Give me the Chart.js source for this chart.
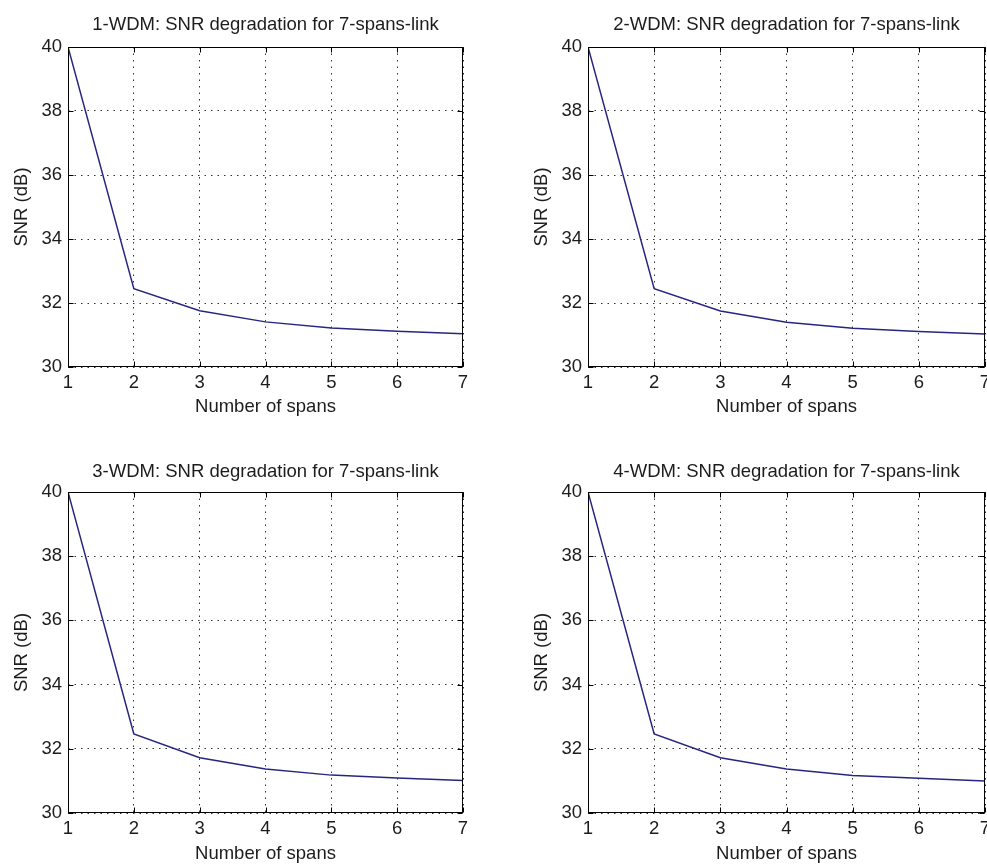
<!DOCTYPE html>
<html>
<head>
<meta charset="utf-8">
<script src="https://cdn.jsdelivr.net/npm/chart.js@4/dist/chart.umd.min.js"></script>
<style>
  html, body { margin: 0; padding: 0; background: #ffffff; }
  body { width: 987px; height: 867px; position: relative; overflow: hidden; }
  canvas { position: absolute; }
</style>
</head>
<body>
<canvas id="c1" style="left:0px;top:0px;"></canvas>
<canvas id="c2" style="left:520px;top:0px;"></canvas>
<canvas id="c3" style="left:0px;top:445px;"></canvas>
<canvas id="c4" style="left:520px;top:445px;"></canvas>
<script>
// ---- data ----
const spans = [1, 2, 3, 4, 5, 6, 7];
const snr1WDM = [40, 32.45, 31.76, 31.41, 31.22, 31.12, 31.04];
const snr2WDM = [40, 32.45, 31.75, 31.40, 31.21, 31.11, 31.03];
const snr3WDM = [40, 32.46, 31.72, 31.37, 31.18, 31.09, 31.01];
const snr4WDM = [40, 32.46, 31.72, 31.37, 31.17, 31.08, 31.00];
const titles = [
  '1-WDM: SNR degradation for 7-spans-link',
  '2-WDM: SNR degradation for 7-spans-link',
  '3-WDM: SNR degradation for 7-spans-link',
  '4-WDM: SNR degradation for 7-spans-link'
];
const xLabel = 'Number of spans';
const yLabel = 'SNR (dB)';
const xRange = [1, 7];
const yRange = [30, 40];
const xStep = 1;
const yStep = 2;

// ---- style ----
const FONT = '"Liberation Sans", Arial, Helvetica, sans-serif';
const FS = 18.5;
const TXT = '#1c1c1c';
const LINE = '#262680';

const framePlugin = {
  id: 'matlabFrame',
  afterDraw(chart) {
    const {ctx, chartArea: a, scales} = chart;
    ctx.save();
    ctx.setLineDash([]);
    ctx.strokeStyle = '#000';
    ctx.lineWidth = 1;
    const L = Math.round(a.left) + 0.5, R = Math.round(a.right) - 0.5;
    const T = Math.round(a.top) + 0.5, B = Math.round(a.bottom) - 0.5;
    ctx.strokeRect(L, T, R - L, B - T);
    const tl = 5;
    ctx.beginPath();
    scales.x.ticks.forEach(t => {
      const px = Math.round(scales.x.getPixelForValue(t.value)) + 0.5;
      ctx.moveTo(px, B); ctx.lineTo(px, B - tl);
      ctx.moveTo(px, T); ctx.lineTo(px, T + tl);
    });
    scales.y.ticks.forEach(t => {
      const py = Math.round(scales.y.getPixelForValue(t.value)) + 0.5;
      ctx.moveTo(L, py); ctx.lineTo(L + tl, py);
      ctx.moveTo(R, py); ctx.lineTo(R - tl, py);
    });
    ctx.stroke();
    ctx.restore();
  }
};

function makeChart(id, w, h, values, title, padRight, tPadTop, tPadBottom, xAxisH, xTitlePadBottom) {
  const cv = document.getElementById(id);
  cv.width = w; cv.height = h;
  cv.style.width = w + 'px'; cv.style.height = h + 'px';
  return new Chart(cv, {
    type: 'line',
    data: {
      datasets: [{
        data: spans.map((s, i) => ({x: s, y: values[i]})),
        borderColor: LINE,
        borderWidth: 1.5,
        pointRadius: 0,
        tension: 0,
        fill: false
      }]
    },
    options: {
      responsive: false,
      animation: false,
      devicePixelRatio: 1,
      layout: { padding: { left: 0, right: padRight, top: 0, bottom: 0 } },
      plugins: {
        legend: { display: false },
        tooltip: { enabled: false },
        title: {
          display: true,
          text: title,
          fullSize: false,
          color: TXT,
          font: { family: FONT, size: FS, weight: 'normal', lineHeight: 1.2 },
          padding: { top: tPadTop, bottom: tPadBottom }
        }
      },
      scales: {
        x: {
          type: 'linear',
          min: xRange[0], max: xRange[1],
          afterFit(s) { s.height = xAxisH; s.paddingLeft = 0; s.paddingRight = 0; },
          ticks: {
            stepSize: xStep, color: TXT, padding: 4.5, maxRotation: 0, autoSkip: false,
            font: { family: FONT, size: FS, lineHeight: 1.2 }
          },
          grid: { color: '#333', lineWidth: 1, drawTicks: false },
          border: { display: false, dash: [1.5, 5] },
          title: {
            display: true, text: xLabel, color: TXT,
            font: { family: FONT, size: FS, lineHeight: 1.2 },
            padding: { top: 0, bottom: xTitlePadBottom }
          }
        },
        y: {
          type: 'linear',
          min: yRange[0], max: yRange[1],
          afterFit(s) { s.width = 68; s.paddingTop = 0; s.paddingBottom = 0; },
          ticks: {
            stepSize: yStep, color: TXT, padding: 6,
            font: { family: FONT, size: FS, lineHeight: 1.2 }
          },
          grid: { color: '#333', lineWidth: 1, drawTicks: false },
          border: { display: false, dash: [1.5, 5] },
          title: {
            display: true, text: yLabel, color: TXT,
            font: { family: FONT, size: FS, lineHeight: 1.2 },
            padding: { top: 11, bottom: 0 }
          }
        }
      }
    },
    plugins: [framePlugin]
  });
}

makeChart('c1', 480, 430, snr1WDM, titles[0], 17, 13.4, 11.4, 63, 11.9);
makeChart('c2', 467, 430, snr2WDM, titles[1], 2, 13.4, 11.4, 63, 11.9);
makeChart('c3', 480, 422, snr3WDM, titles[2], 17, 15.4, 9.4, 54, 2.4);
makeChart('c4', 467, 422, snr4WDM, titles[3], 2, 15.4, 9.4, 54, 2.4);
</script>
</body>
</html>
